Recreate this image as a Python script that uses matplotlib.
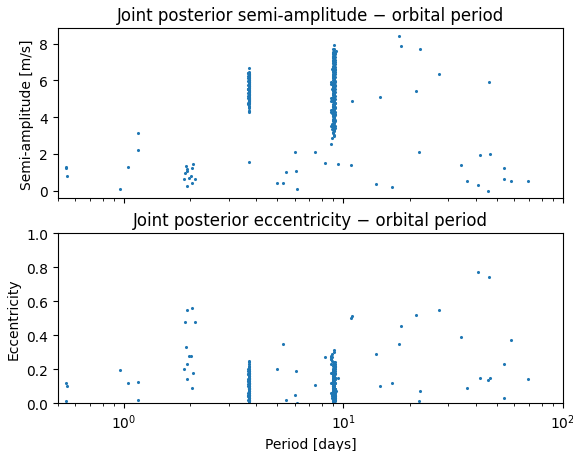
import matplotlib
matplotlib.use("Agg")
import matplotlib.pyplot as plt

# isolated posterior samples: period [days], semi-amplitude [m/s], eccentricity
period_sparse = [0.542, 0.545, 0.553, 0.956, 1.04, 1.16, 1.16,
                 1.91, 1.93, 1.94, 1.90, 1.88, 1.98, 2.03, 1.93, 2.06, 2.05, 2.05, 2.11,
                 4.98, 5.28, 5.45, 6.02, 6.08, 6.12, 7.39, 8.28, 8.73, 9.46,
                 10.8, 10.9, 14.1, 14.6, 16.6, 18.0, 18.3, 21.4, 22.1, 22.4,
                 27.3, 34.3, 36.6, 41.1, 41.9, 45.5, 45.8, 46.6, 53.6, 53.6,
                 58.0, 69.5]
k_sparse = [1.28, 1.25, 0.80, 0.07, 1.29, 3.14, 2.19,
            1.36, 1.16, 1.07, 0.93, 0.63, 0.69, 0.78, 0.27, 1.45, 1.25, 0.42, 0.63,
            0.42, 0.42, 1.00, 2.12, 1.05, 0.07, 2.10, 1.52, 2.54, 1.43,
            1.40, 4.90, 0.38, 5.10, 0.18, 8.42, 7.89, 5.42, 2.10, 7.74,
            6.35, 1.41, 0.54, 0.29, 1.92, 0.00, 5.93, 2.01, 1.25, 0.62,
            0.54, 0.53]
e_sparse = [0.12, 0.01, 0.10, 0.196, 0.12, 0.125, 0.016,
            0.33, 0.14, 0.55, 0.48, 0.20, 0.28, 0.28, 0.23, 0.18, 0.56, 0.09, 0.48,
            0.20, 0.35, 0.02, 0.05, 0.19, 0.00, 0.106, 0.27, 0.26, 0.15,
            0.50, 0.51, 0.29, 0.10, 0.116, 0.35, 0.455, 0.516, 0.014, 0.072,
            0.55, 0.39, 0.086, 0.77, 0.149, 0.137, 0.74, 0.149, 0.228, 0.028,
            0.37, 0.143]

# dense mode near 3.7 d
period_a = [3.70, 3.71, 3.69, 3.72, 3.70, 3.71, 3.70, 3.69, 3.71, 3.72,
            3.70, 3.71, 3.70, 3.72, 3.69, 3.70, 3.71, 3.70, 3.71, 3.70,
            3.69, 3.72, 3.70, 3.71, 3.70, 3.71, 3.69, 3.70, 3.72, 3.71,
            3.70, 3.70, 3.71, 3.69, 3.72, 3.70, 3.71, 3.70, 3.71, 3.70,
            3.72, 3.69, 3.70, 3.71, 3.70, 3.71, 3.72, 3.70, 3.69, 3.71,
            3.70, 3.73, 3.71, 3.72, 3.70, 3.71, 3.72, 3.69, 3.70, 3.71,
            3.70, 3.71, 3.70, 3.72, 3.69, 3.71, 3.70, 3.71, 3.72, 3.70,
            3.71, 3.70, 3.69, 3.71, 3.70, 3.72, 3.71, 3.70, 3.69, 3.71,
            3.70, 3.72, 3.71, 3.70, 3.71, 3.69, 3.70, 3.72, 3.71, 3.70,
            3.71, 3.70, 3.72, 3.69, 3.70, 3.71, 3.70, 3.71, 3.72, 3.70]
k_a = [6.69, 6.46, 6.41, 6.37, 6.33, 6.30, 6.25, 6.22, 6.18, 6.14,
       6.11, 6.07, 6.03, 5.99, 5.96, 5.93, 5.89, 5.85, 5.82, 5.78,
       5.75, 5.71, 5.68, 5.64, 5.61, 5.57, 5.54, 5.51, 5.47, 5.44,
       5.40, 5.37, 5.33, 5.30, 5.26, 5.23, 5.19, 5.16, 5.12, 5.09,
       5.05, 5.02, 4.98, 4.95, 4.91, 4.88, 4.84, 4.81, 4.77, 4.73,
       4.62, 4.55, 4.48, 4.36, 4.31, 4.27, 5.88, 5.52, 6.02, 1.55,
       6.43, 6.35, 6.27, 6.20, 6.12, 6.05, 5.97, 5.90, 5.83, 5.76,
       5.69, 5.62, 5.55, 5.49, 5.42, 5.35, 5.28, 5.21, 5.14, 5.07,
       5.00, 4.93, 4.86, 4.79, 4.75, 6.39, 6.16, 5.94, 5.72, 5.50,
       5.28, 5.06, 4.90, 4.70, 6.28, 5.80, 5.38, 4.97, 6.00, 5.60]
e_a = [0.02, 0.11, 0.05, 0.17, 0.08, 0.14, 0.01, 0.19, 0.06, 0.12,
       0.15, 0.03, 0.09, 0.18, 0.04, 0.13, 0.07, 0.16, 0.10, 0.02,
       0.20, 0.06, 0.11, 0.14, 0.03, 0.08, 0.17, 0.05, 0.12, 0.19,
       0.01, 0.15, 0.09, 0.04, 0.13, 0.07, 0.18, 0.10, 0.02, 0.16,
       0.06, 0.11, 0.14, 0.03, 0.08, 0.20, 0.05, 0.12, 0.17, 0.09,
       0.25, 0.24, 0.22, 0.23, 0.21, 0.19, 0.00, 0.13, 0.07, 0.10,
       0.04, 0.16, 0.09, 0.12, 0.02, 0.18, 0.07, 0.14, 0.11, 0.05,
       0.19, 0.01, 0.13, 0.08, 0.17, 0.03, 0.10, 0.15, 0.06, 0.20,
       0.12, 0.04, 0.16, 0.09, 0.01, 0.14, 0.07, 0.18, 0.11, 0.03,
       0.15, 0.06, 0.19, 0.10, 0.02, 0.13, 0.08, 0.17, 0.05, 0.12]

# dense mode near 9 d
period_b = [9.02, 8.95, 9.10, 9.20, 8.98, 9.05, 9.15, 8.92, 9.08, 8.99,
            9.03, 9.12, 8.94, 9.06, 9.18, 8.97, 9.01, 9.09, 8.93, 9.14,
            9.04, 8.96, 9.11, 9.00, 9.07, 8.91, 9.16, 9.02, 8.98, 9.13,
            9.05, 8.95, 9.10, 9.03, 8.99, 9.17, 8.94, 9.06, 9.01, 9.12,
            8.80, 9.08, 8.97, 9.04, 9.14, 8.93, 9.00, 9.09, 8.96, 9.11,
            9.03, 8.92, 9.15, 9.05, 8.99, 9.07, 8.95, 9.10, 9.02, 8.98,
            8.82, 9.13, 9.01, 8.94, 9.06, 9.19, 8.97, 9.04, 9.09, 8.93,
            9.00, 9.12, 8.96, 9.08, 8.81, 9.03, 9.16, 8.99, 9.05, 8.92,
            9.11, 8.95, 9.02, 9.07, 8.98, 9.14, 9.01, 8.94, 9.09, 9.04,
            8.83, 9.00, 9.12, 8.96, 9.06, 8.84, 9.03, 8.97, 9.08, 8.90,
            9.06, 8.97, 9.13, 9.01, 8.94, 9.10, 9.04, 8.99, 9.16, 8.92,
            9.08, 9.02, 8.96, 9.12, 9.05, 8.98, 9.15, 9.00, 8.93, 9.09,
            9.03, 8.95, 9.11, 9.07, 8.99, 9.14, 9.02, 8.91, 9.06, 9.10,
            8.97, 9.04, 9.13, 8.94, 9.01, 9.08, 8.98, 9.17, 9.03, 8.96,
            9.11, 9.05, 8.93, 9.09, 9.00, 9.15, 8.97, 9.06, 9.02, 8.95,
            9.12, 9.04, 8.99, 9.08, 8.92, 9.01, 9.10, 8.96, 9.05, 9.13,
            8.82, 8.80, 8.81, 8.83, 8.82, 9.00, 9.03, 9.06, 8.97, 9.02]
k_b = [7.91, 7.74, 7.69, 7.63, 7.58, 7.55, 7.50, 7.45, 7.41, 7.36,
       7.32, 7.27, 7.22, 7.18, 7.13, 7.09, 7.04, 6.99, 6.95, 6.90,
       6.86, 6.81, 6.76, 6.72, 6.67, 6.63, 6.58, 6.53, 6.49, 6.44,
       6.40, 6.35, 6.30, 6.26, 6.21, 6.17, 6.12, 6.07, 6.03, 5.98,
       5.94, 5.89, 5.84, 5.80, 5.75, 5.71, 5.66, 5.61, 5.57, 5.52,
       5.48, 5.43, 5.38, 5.34, 5.29, 5.25, 5.20, 5.15, 5.11, 5.06,
       5.02, 4.97, 4.92, 4.88, 4.83, 4.79, 4.74, 4.69, 4.65, 4.60,
       4.56, 4.51, 4.46, 4.42, 4.37, 4.33, 4.28, 4.23, 4.19, 4.14,
       4.10, 4.05, 4.00, 3.96, 3.91, 3.87, 3.82, 3.77, 3.73, 3.68,
       3.64, 3.59, 3.54, 3.50, 3.45, 3.38, 3.30, 3.21, 3.05, 2.85,
       7.60, 7.52, 7.47, 7.39, 7.30, 7.24, 7.15, 7.07, 7.01, 6.93,
       6.84, 6.78, 6.70, 6.61, 6.55, 6.47, 6.38, 6.32, 6.24, 6.15,
       6.09, 6.01, 5.92, 5.86, 5.78, 5.69, 5.63, 5.55, 5.46, 5.40,
       5.32, 5.23, 5.17, 5.09, 5.00, 4.94, 4.86, 4.77, 4.71, 4.63,
       4.54, 4.48, 4.40, 4.31, 4.25, 4.17, 4.08, 4.02, 3.94, 3.85,
       3.79, 3.71, 3.62, 3.56, 3.48, 3.35, 3.25, 3.12, 2.95, 3.42,
       5.83, 4.90, 4.30, 4.22, 3.52, 6.50, 7.05, 5.35, 4.95, 6.85]
e_b = [0.12, 0.03, 0.19, 0.07, 0.15, 0.01, 0.22, 0.10, 0.05, 0.17,
       0.09, 0.14, 0.02, 0.20, 0.06, 0.11, 0.16, 0.04, 0.13, 0.08,
       0.18, 0.00, 0.21, 0.07, 0.12, 0.03, 0.15, 0.10, 0.05, 0.23,
       0.09, 0.17, 0.02, 0.13, 0.06, 0.19, 0.11, 0.04, 0.14, 0.08,
       0.27, 0.16, 0.01, 0.12, 0.20, 0.07, 0.10, 0.03, 0.18, 0.05,
       0.14, 0.09, 0.22, 0.02, 0.11, 0.15, 0.06, 0.19, 0.08, 0.13,
       0.26, 0.04, 0.17, 0.10, 0.01, 0.21, 0.12, 0.07, 0.16, 0.03,
       0.09, 0.24, 0.05, 0.14, 0.28, 0.11, 0.18, 0.02, 0.08, 0.13,
       0.06, 0.20, 0.10, 0.15, 0.04, 0.12, 0.17, 0.07, 0.30, 0.09,
       0.25, 0.14, 0.03, 0.11, 0.31, 0.29, 0.06, 0.16, 0.10, 0.27,
       0.05, 0.16, 0.02, 0.21, 0.10, 0.13, 0.07, 0.19, 0.03, 0.12,
       0.17, 0.08, 0.23, 0.04, 0.14, 0.11, 0.01, 0.18, 0.09, 0.15,
       0.06, 0.20, 0.12, 0.02, 0.16, 0.08, 0.22, 0.05, 0.13, 0.10,
       0.19, 0.03, 0.15, 0.11, 0.07, 0.24, 0.01, 0.17, 0.09, 0.14,
       0.04, 0.20, 0.12, 0.06, 0.18, 0.02, 0.13, 0.08, 0.21, 0.10,
       0.15, 0.05, 0.19, 0.11, 0.03, 0.16, 0.07, 0.22, 0.09, 0.14,
       0.12, 0.06, 0.18, 0.04, 0.23, 0.11, 0.00, 0.17, 0.08, 0.13]

period = period_sparse + period_a + period_b
k_amp = k_sparse + k_a + k_b
ecc = e_sparse + e_a + e_b

fig, (ax1, ax2) = plt.subplots(2, 1, sharex=True, figsize=(5.73, 4.52), dpi=100)
fig.subplots_adjust(left=0.101, right=0.9825, top=0.935, bottom=0.106, hspace=0.206)

# semi-amplitude vs period
ax1.scatter(period, k_amp, s=1.5)
ax1.set_xscale('log')
ax1.set_ylabel('Semi-amplitude [m/s]')
ax1.set_title('Joint posterior semi-amplitude \u2212 orbital period')

# eccentricity vs period
ax2.scatter(period, ecc, s=1.5)
ax2.set_xscale('log')
ax2.set_xlim(0.5, 100)
ax2.set_ylim(0, 1)
ax2.set_xlabel('Period [days]')
ax2.set_ylabel('Eccentricity')
ax2.set_title('Joint posterior eccentricity \u2212 orbital period')

fig.savefig('out.png')
